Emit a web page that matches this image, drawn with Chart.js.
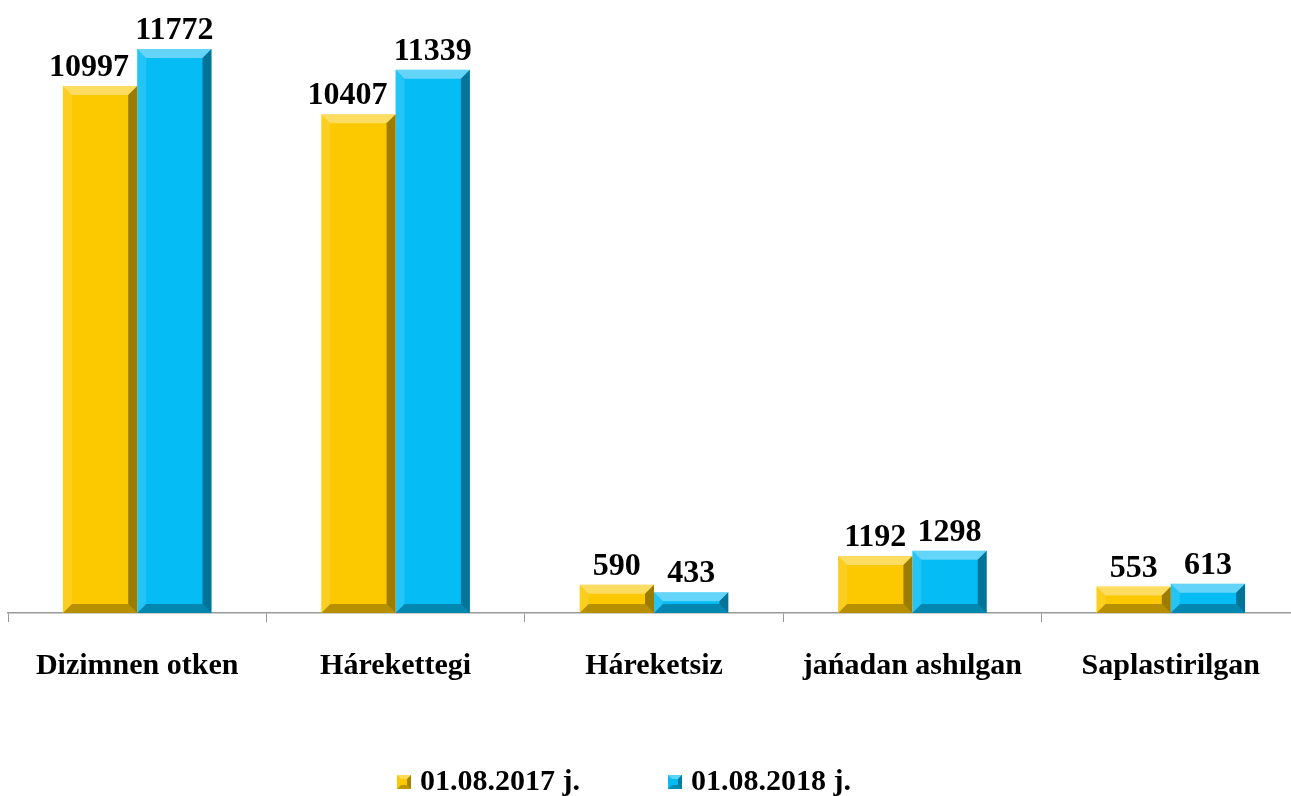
<!DOCTYPE html>
<html>
<head>
<meta charset="utf-8">
<script src="https://cdn.jsdelivr.net/npm/chart.js@4/dist/chart.umd.min.js"></script>
<style>
  html, body { margin: 0; padding: 0; background: #fff; overflow: hidden; }
  #wrap { width: 1300px; height: 796px; position: relative; }
</style>
</head>
<body>
<div id="wrap"><canvas id="chart"></canvas></div>
<script>
const categories = ["Dizimnen otken", "Hárekettegi", "Háreketsiz", "jańadan ashılgan", "Saplastirilgan"];
const series2017 = [10997, 10407, 590, 1192, 553];
const series2018 = [11772, 11339, 433, 1298, 613];
const seriesNames = ["01.08.2017 j.", "01.08.2018 j."];

const GOLD = "#fcc800";
const BLUE = "#05bcf5";
const SERIF = "'Liberation Serif', 'Times New Roman', serif";

/* small beveled square for the legend */
function legendBox(color) {
  const c = document.createElement("canvas");
  c.width = 14; c.height = 14;
  const g = c.getContext("2d");
  g.fillStyle = color;
  g.fillRect(0, 0, 14, 14);
  g.fillStyle = "rgba(255,255,255,0.35)";
  g.beginPath(); g.moveTo(0, 0); g.lineTo(14, 0); g.lineTo(10, 4); g.lineTo(4, 4); g.fill();
  g.fillStyle = "rgba(0,0,0,0.35)";
  g.beginPath(); g.moveTo(14, 0); g.lineTo(14, 14); g.lineTo(10, 10); g.lineTo(10, 4); g.fill();
  g.fillStyle = "rgba(0,0,0,0.25)";
  g.beginPath(); g.moveTo(0, 14); g.lineTo(14, 14); g.lineTo(10, 10); g.lineTo(4, 10); g.fill();
  return c;
}

/* bevel look on each bar */
const bevelPlugin = {
  id: "bevel",
  afterDatasetsDraw(chart) {
    const ctx = chart.ctx;
    chart.data.datasets.forEach((ds, i) => {
      chart.getDatasetMeta(i).data.forEach(bar => {
        const l = bar.x - bar.width / 2, r = bar.x + bar.width / 2;
        const t = bar.y, bt = bar.base;
        const b = Math.min(9, (bt - t) / 2);
        const poly = (pts, fill) => {
          ctx.fillStyle = fill;
          ctx.beginPath();
          ctx.moveTo(pts[0][0], pts[0][1]);
          pts.slice(1).forEach(p => ctx.lineTo(p[0], p[1]));
          ctx.closePath();
          ctx.fill();
        };
        ctx.save();
        poly([[l, t], [r, t], [r - b, t + b], [l + b, t + b]], "rgba(255,255,255,0.38)");
        poly([[l, t], [l + b, t + b], [l + b, bt - b], [l, bt]], "rgba(255,255,255,0.12)");
        poly([[r, t], [r, bt], [r - b, bt - b], [r - b, t + b]], "rgba(0,0,0,0.38)");
        poly([[l, bt], [r, bt], [r - b, bt - b], [l + b, bt - b]], "rgba(0,0,0,0.28)");
        ctx.restore();
      });
    });
  }
};

/* value labels above bars; first-series label moves left when the next bar would touch it */
const labelPlugin = {
  id: "valueLabels",
  afterDatasetsDraw(chart) {
    const ctx = chart.ctx;
    ctx.save();
    ctx.font = "bold 32px " + SERIF;
    ctx.fillStyle = "#000";
    ctx.textAlign = "center";
    ctx.textBaseline = "alphabetic";
    const next = chart.getDatasetMeta(1).data;
    chart.data.datasets.forEach((ds, i) => {
      chart.getDatasetMeta(i).data.forEach((bar, j) => {
        let x = bar.x;
        if (i === 0 && next[j] && next[j].y < bar.y - 10) x -= 11;
        ctx.fillText(String(ds.data[j]), x, bar.y - 10);
      });
    });
    ctx.restore();
  }
};

/* nudge legend (left of centre, a bit lower) and let x labels overflow their box */
const layoutTweak = {
  id: "layoutTweak",
  afterLayout(chart) {
    const lg = chart.legend;
    lg.left -= 27; lg.right -= 27;
    lg.top += 11; lg.bottom += 11;
    chart.scales.x.bottom = chart.scales.x.top + 90;
  }
};

new Chart(document.getElementById("chart"), {
  type: "bar",
  data: {
    labels: categories,
    datasets: [
      { label: seriesNames[0], data: series2017, backgroundColor: GOLD, pointStyle: legendBox(GOLD) },
      { label: seriesNames[1], data: series2018, backgroundColor: BLUE, pointStyle: legendBox(BLUE) }
    ]
  },
  options: {
    responsive: true,
    maintainAspectRatio: false,
    animation: false,
    layout: { padding: { top: 38, left: 8, right: 0, bottom: 0 } },
    datasets: { bar: { categoryPercentage: 0.575, barPercentage: 1 } },
    scales: {
      x: {
        grid: { drawOnChartArea: false, drawTicks: true, tickLength: 9, color: "#999", offset: true },
        border: { display: true, color: "#999", width: 1.5 },
        ticks: { color: "#000", font: { family: SERIF, size: 30, weight: "bold" }, padding: 26 },
        afterFit: s => { s.height = 49; }
      },
      y: { display: false, min: 0, max: 12000 }
    },
    plugins: {
      legend: {
        position: "bottom",
        labels: {
          usePointStyle: true,
          pointStyleWidth: 2,
          color: "#000",
          font: { family: SERIF, size: 30, weight: "bold" },
          padding: 94
        }
      },
      tooltip: { enabled: false }
    }
  },
  plugins: [bevelPlugin, labelPlugin, layoutTweak]
});
</script>
</body>
</html>
